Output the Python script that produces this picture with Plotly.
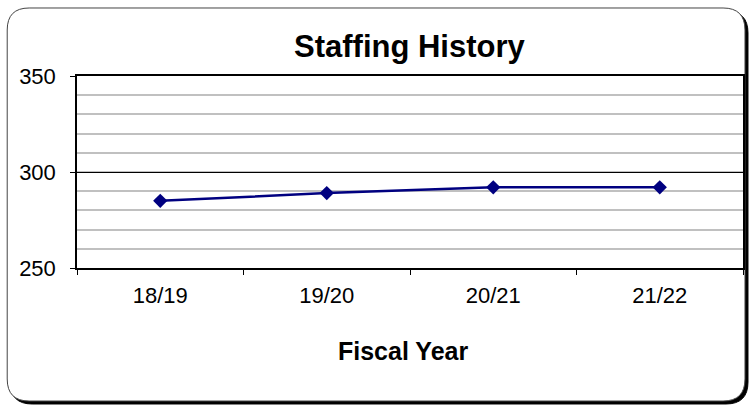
import plotly.graph_objects as go

categories = ["18/19", "19/20", "20/21", "21/22"]
staff = [285, 289, 292, 292]
title_text = "Staffing History"
x_title = "Fiscal Year"

W, H = 752, 409
L, R, T, B = 77, 745, 76, 268  # plot area in pixels
PW, PH = R - L, B - T


def px(x):
    return (x - L) / PW


def py(y):
    return (B - y) / PH


def rounded_path(x0, y0, x1, y1, r):
    pts = [
        ("M", [(x0 + r, y0)]),
        ("L", [(x1 - r, y0)]),
        ("Q", [(x1, y0), (x1, y0 + r)]),
        ("L", [(x1, y1 - r)]),
        ("Q", [(x1, y1), (x1 - r, y1)]),
        ("L", [(x0 + r, y1)]),
        ("Q", [(x0, y1), (x0, y1 - r)]),
        ("L", [(x0, y0 + r)]),
        ("Q", [(x0, y0), (x0 + r, y0)]),
    ]
    s = ""
    for cmd, ps in pts:
        s += cmd + " " + " ".join(f"{px(a):.5f},{py(b):.5f}" for a, b in ps) + " "
    return s + "Z"


fig = go.Figure()
fig.add_trace(go.Scatter(
    x=categories, y=staff, mode="lines+markers",
    line=dict(color="#000080", width=2.5),
    marker=dict(symbol="diamond", size=11, color="#000080"),
    showlegend=False, cliponaxis=False,
))

font = "Liberation Sans, Arial, sans-serif"

fig.update_layout(
    width=W, height=H,
    margin=dict(l=L, r=W - R, t=T, b=H - B),
    paper_bgcolor="white", plot_bgcolor="rgba(0,0,0,0)",
    font=dict(family=font, color="black"),
    shapes=[
        dict(type="path", xref="paper", yref="paper", layer="below",
             path=rounded_path(10, 11, 750, 404, 22),
             fillcolor="black", line=dict(color="black", width=1)),
        dict(type="path", xref="paper", yref="paper", layer="below",
             path=rounded_path(7, 8, 747, 401, 22),
             fillcolor="white", line=dict(color="#444444", width=1)),
    ],
    annotations=[
        dict(text=f"<b>{title_text}</b>", xref="paper", yref="paper",
             x=px(411.5), y=py(47), xanchor="center", yanchor="middle",
             showarrow=False, font=dict(size=31, family=font)),
        dict(text=f"<b>{x_title}</b>", xref="paper", yref="paper",
             x=px(404), y=py(351), xanchor="center", yanchor="middle",
             showarrow=False, font=dict(size=25, family=font)),
    ],
)

fig.update_xaxes(
    type="category", range=[-0.5, 3.5],
    showline=True, linecolor="black", linewidth=1.5, mirror=True,
    ticks="outside", tickson="boundaries", ticklen=5, tickcolor="black",
    showgrid=False, zeroline=False,
    tickfont=dict(size=22, family=font), ticklabelstandoff=7,
)
fig.update_yaxes(
    range=[250, 350], tickvals=[250, 300, 350],
    showline=True, linecolor="black", linewidth=1.5, mirror=True,
    ticks="outside", ticklen=5, tickcolor="black",
    showgrid=True, gridcolor="black", gridwidth=1,
    minor=dict(dtick=10, showgrid=True, gridcolor="#c0c0c0", gridwidth=1.8, ticks=""),
    zeroline=False,
    tickfont=dict(size=22, family=font), ticklabelstandoff=10,
)

fig.write_html(
    "out.html",
    config={"displayModeBar": False},
    post_script="document.body.style.margin='0';document.body.style.overflow='hidden';",
)
